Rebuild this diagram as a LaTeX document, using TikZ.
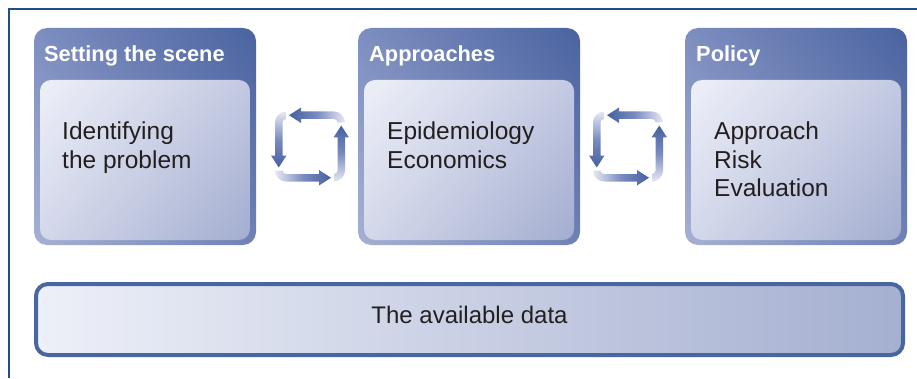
\documentclass[tikz,border=0pt]{standalone}
\usepackage{fontspec}
\setmainfont{Liberation Sans}
\usetikzlibrary{shadings}
\definecolor{framecol}{HTML}{1F4E8C}
\definecolor{outUL}{HTML}{7D8EC0}
\definecolor{outUR}{HTML}{4A63A0}
\definecolor{outLL}{HTML}{A6B0D3}
\definecolor{outLR}{HTML}{6F81B5}
\definecolor{inUL}{HTML}{EEF0F8}
\definecolor{inUR}{HTML}{C3C9E2}
\definecolor{inLL}{HTML}{D3D8EA}
\definecolor{inLR}{HTML}{A3ADCF}
\definecolor{barL}{HTML}{EDF0F8}
\definecolor{barR}{HTML}{A5AFD0}
\definecolor{barEdge}{HTML}{4A66A0}
\definecolor{arrDark}{HTML}{4560A0}
\definecolor{arrMid}{HTML}{7A8BC0}
\definecolor{arrLight}{HTML}{E6E9F4}
\definecolor{inkcol}{HTML}{231F20}

% four shaded arrows running round a rounded square, centred on #1
\newcommand{\cyclearrows}[1]{%
  \begin{scope}[shift={(#1)}]
    % left side, pointing down
    \shade[top color=arrLight, bottom color=arrDark, middle color=arrMid]
      (-24,35) arc[start angle=90, end angle=180, radius=11]
      -- (-35,-9) -- (-39,-9) -- (-31.25,-21) -- (-23.5,-9) -- (-27.5,-9)
      -- (-27.5,24) arc[start angle=180, end angle=90, radius=3.5] -- cycle;
    % bottom side, pointing right
    \shade[left color=arrLight, right color=arrDark, middle color=arrMid]
      (-35,-24) arc[start angle=180, end angle=270, radius=11]
      -- (9,-35) -- (9,-39) -- (21,-31.25) -- (9,-23.5) -- (9,-27.5)
      -- (-24,-27.5) arc[start angle=270, end angle=180, radius=3.5] -- cycle;
    % right side, pointing up
    \shade[bottom color=arrLight, top color=arrDark, middle color=arrMid]
      (24,-35) arc[start angle=270, end angle=360, radius=11]
      -- (35,9) -- (39,9) -- (31.25,21) -- (23.5,9) -- (27.5,9)
      -- (27.5,-24) arc[start angle=0, end angle=-90, radius=3.5] -- cycle;
    % top side, pointing left
    \shade[right color=arrLight, left color=arrDark, middle color=arrMid]
      (35,24) arc[start angle=0, end angle=90, radius=11]
      -- (-9,35) -- (-9,39) -- (-21,31.25) -- (-9,23.5) -- (-9,27.5)
      -- (24,27.5) arc[start angle=90, end angle=0, radius=3.5] -- cycle;
  \end{scope}}

\begin{document}
\begin{tikzpicture}[x=1pt, y=1pt,
  outerbox/.style={shade, rounded corners=13pt, inner sep=0pt,
    minimum width=222pt, minimum height=217pt,
    upper left=outUL, upper right=outUR, lower left=outLL, lower right=outLR},
  innerbox/.style={shade, rounded corners=11pt, inner sep=0pt,
    minimum width=210pt, minimum height=160pt,
    upper left=inUL, upper right=inUR, lower left=inLL, lower right=inLR},
  header/.style={anchor=base west, inner sep=0pt, text=white,
    font=\fontsize{21.8}{25}\selectfont\bfseries},
  body/.style={anchor=base west, inner sep=0pt, text=inkcol,
    font=\fontsize{24.5}{28.5}\selectfont},
  databar/.style={shade, draw=barEdge, line width=4pt, rounded corners=12pt,
    inner sep=0pt, minimum width=867pt, minimum height=71pt,
    text height=17pt, text depth=9pt,
    left color=barL, right color=barR, text=inkcol,
    font=\fontsize{24}{28}\selectfont}
]
\useasboundingbox (0,0) rectangle (917,378);

% frame rules
\draw[framecol, line width=1.5pt] (9,0) -- (9,369) -- (917,369);

% three stages
\node[outerbox] (sceneOut) at (145,241.5) {};
\node[innerbox] (sceneIn) at (145,218) {};
\node[header] (sceneHead) at (44,316) {Setting the scene};
\node[body] (sceneA) at (62,238) {Identifying};
\node[body] (sceneB) at (62,210) {the problem};

\node[outerbox] (apprOut) at (469,241.5) {};
\node[innerbox] (apprIn) at (469,218) {};
\node[header] (apprHead) at (369,316) {Approaches};
\node[body] (apprA) at (387,238) {Epidemiology};
\node[body] (apprB) at (387,210) {Economics};

\node[outerbox] (polOut) at (796,241.5) {};
\node[innerbox] (polIn) at (796,218) {};
\node[header] (polHead) at (696,316) {Policy};
\node[body] (polA) at (714,238) {Approach};
\node[body] (polB) at (714,210) {Risk};
\node[body] (polC) at (714,182) {Evaluation};

% feedback cycles between stages
\cyclearrows{310,231.5}
\cyclearrows{628,231.5}

% data foundation
\node[databar] (data) at (469.5,58.5) {The available data};
\end{tikzpicture}
\end{document}
